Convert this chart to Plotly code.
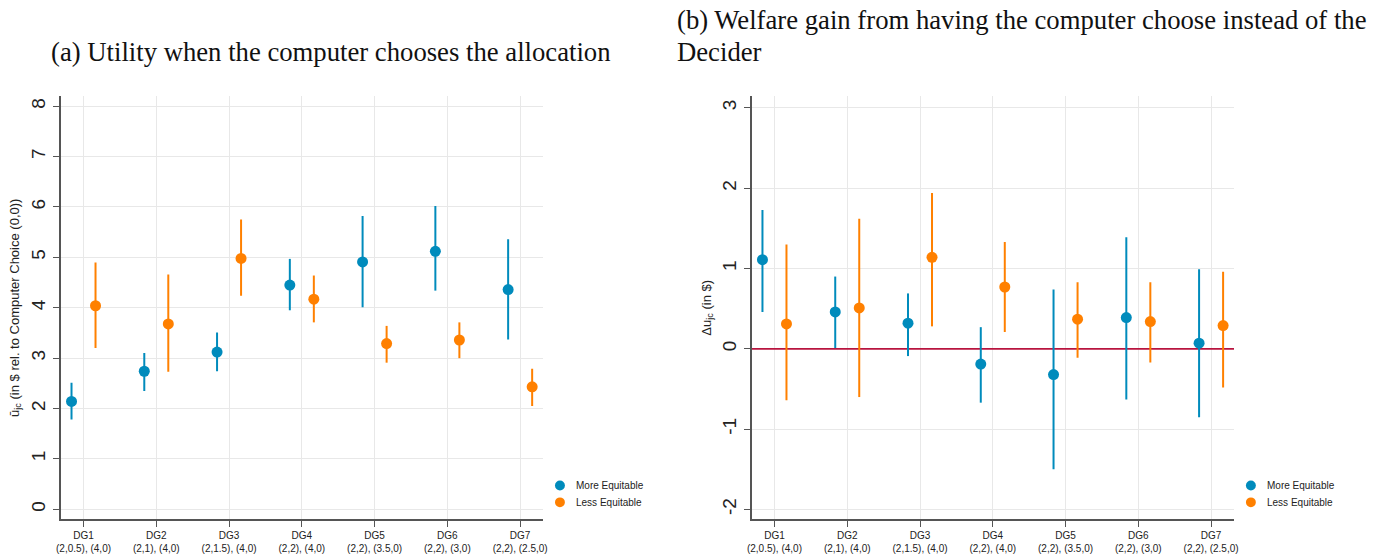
import plotly.graph_objects as go

# Dictator-game labels
games = ["DG1", "DG2", "DG3", "DG4", "DG5", "DG6", "DG7"]
allocations = ["(2,0.5), (4,0)", "(2,1), (4,0)", "(2,1.5), (4,0)", "(2,2), (4,0)",
               "(2,2), (3.5,0)", "(2,2), (3,0)", "(2,2), (2.5,0)"]

# Panel (a): utility when the computer chooses (estimate, lower CI, upper CI)
a_more = [2.14, 2.74, 3.12, 4.45, 4.91, 5.12, 4.36]
a_more_lo = [1.78, 2.35, 2.74, 3.95, 4.01, 4.34, 3.37]
a_more_hi = [2.51, 3.10, 3.51, 4.97, 5.82, 6.02, 5.36]
a_less = [4.04, 3.68, 4.98, 4.17, 3.29, 3.36, 2.43]
a_less_lo = [3.20, 2.73, 4.24, 3.71, 2.91, 3.00, 2.05]
a_less_hi = [4.90, 4.66, 5.75, 4.64, 3.64, 3.71, 2.79]

# Panel (b): welfare gain from computer choice
b_more = [1.11, 0.46, 0.32, -0.19, -0.32, 0.39, 0.07]
b_more_lo = [0.46, 0.01, -0.09, -0.67, -1.50, -0.63, -0.85]
b_more_hi = [1.73, 0.90, 0.69, 0.27, 0.74, 1.39, 0.99]
b_less = [0.31, 0.51, 1.14, 0.77, 0.37, 0.34, 0.29]
b_less_lo = [-0.64, -0.60, 0.28, 0.21, -0.11, -0.17, -0.48]
b_less_hi = [1.30, 1.62, 1.94, 1.33, 0.83, 0.83, 0.96]

# y tick labels
a_yticks = [0, 1, 2, 3, 4, 5, 6, 7, 8]
b_yticks = [-2, -1, 0, 1, 2, 3]

series_names = ["More Equitable", "Less Equitable"]
BLUE = "#008bbc"
ORANGE = "#ff8000"
ZERO = "#b8143f"
AXIS = "#555555"
GRID = "#e8e8e8"

W, H = 1378, 554
pos = list(range(1, len(games) + 1))
offset = 0.165
ticktext = [f"{g}<br>{a}" for g, a in zip(games, allocations)]

fig = go.Figure()

# zero reference line in panel (b), drawn beneath the markers
fig.add_trace(go.Scatter(x=[0.685, 7.315], y=[0, 0], mode="lines",
                         line=dict(color=ZERO, width=1.6),
                         xaxis="x2", yaxis="y2", showlegend=False, hoverinfo="skip"))


def add_series(est, lo, hi, color, shift, xa, ya):
    fig.add_trace(go.Scatter(
        x=[p + shift for p in pos], y=est, mode="markers",
        marker=dict(color=color, size=11, line=dict(width=0)),
        error_y=dict(type="data", symmetric=False,
                     array=[h - e for h, e in zip(hi, est)],
                     arrayminus=[e - l for e, l in zip(est, lo)],
                     color=color, thickness=2, width=0),
        xaxis=xa, yaxis=ya, showlegend=False, hoverinfo="skip"))


add_series(a_more, a_more_lo, a_more_hi, BLUE, -offset, "x", "y")
add_series(a_less, a_less_lo, a_less_hi, ORANGE, offset, "x", "y")
add_series(b_more, b_more_lo, b_more_hi, BLUE, -offset, "x2", "y2")
add_series(b_less, b_less_lo, b_less_hi, ORANGE, offset, "x2", "y2")

ydom = [1 - 523 / H, 1 - 97 / H]
xcommon = dict(range=[0.685, 7.315], tickvals=pos, ticktext=ticktext,
               showgrid=True, gridcolor=GRID, gridwidth=1, zeroline=False,
               showline=True, linecolor=AXIS, linewidth=1.5,
               ticks="outside", ticklen=6, tickcolor=AXIS, tickwidth=1.3,
               tickfont=dict(family="Liberation Sans, Arial", size=10, color="#222"))
ycommon = dict(showgrid=True, gridcolor=GRID, gridwidth=1, zeroline=False,
               showline=True, linecolor=AXIS, linewidth=1.5,
               ticks="outside", ticklen=6, tickcolor=AXIS, tickwidth=1.3,
               tickangle=-90,
               tickfont=dict(family="Liberation Sans, Arial", size=19, color="#222"))

fig.update_layout(
    width=W, height=H, margin=dict(l=0, r=0, t=0, b=0),
    paper_bgcolor="white", plot_bgcolor="white",
    xaxis=dict(domain=[56 / W, 542 / W], anchor="y", **xcommon),
    yaxis=dict(domain=ydom, anchor="x", range=[-0.197, 8.197],
               tickvals=a_yticks, ticktext=[str(v) for v in a_yticks],
               title=dict(text="ū<sub>jc</sub> (in $ rel. to Computer Choice (0,0))",
                          font=dict(family="Liberation Sans, Arial", size=13, color="#222"),
                          standoff=6),
               **ycommon),
    xaxis2=dict(domain=[752 / W, 1238 / W], anchor="y2", **xcommon),
    yaxis2=dict(domain=ydom, anchor="x2", range=[-2.121, 3.144],
                tickvals=b_yticks, ticktext=[str(v) for v in b_yticks],
                title=dict(text="Δu<sub>jc</sub> (in $)",
                           font=dict(family="Liberation Sans, Arial", size=13, color="#222"),
                           standoff=5),
                **ycommon),
)

title_font = dict(family="Liberation Serif, Times New Roman, serif", size=26.7, color="#111")
annotations = [
    dict(text="(a) Utility when the computer chooses the allocation",
         x=44 / W, y=1 - 52 / H, xanchor="left", yanchor="middle"),
    dict(text="(b) Welfare gain from having the computer choose instead of the",
         x=675 / W, y=1 - 20 / H, xanchor="left", yanchor="middle"),
    dict(text="Decider", x=675 / W, y=1 - 52 / H, xanchor="left", yanchor="middle"),
]
for ann in annotations:
    fig.add_annotation(xref="paper", yref="paper", showarrow=False,
                       font=title_font, **ann)

# legends for both panels
shapes = []
for lx, tx in [(559, 573), (1255, 1269)]:
    for name, color, ly in [(series_names[0], BLUE, 489), (series_names[1], ORANGE, 506)]:
        r = 5
        shapes.append(dict(type="circle", xref="paper", yref="paper",
                           x0=(lx - r) / W, x1=(lx + r) / W,
                           y0=1 - (ly + r) / H, y1=1 - (ly - r) / H,
                           fillcolor=color, line=dict(width=0)))
        fig.add_annotation(xref="paper", yref="paper", showarrow=False,
                           text=name, x=tx / W, y=1 - ly / H,
                           xanchor="left", yanchor="middle",
                           font=dict(family="Liberation Sans, Arial", size=10, color="#222"))
fig.update_layout(shapes=shapes)

fig.write_html("out.html")
